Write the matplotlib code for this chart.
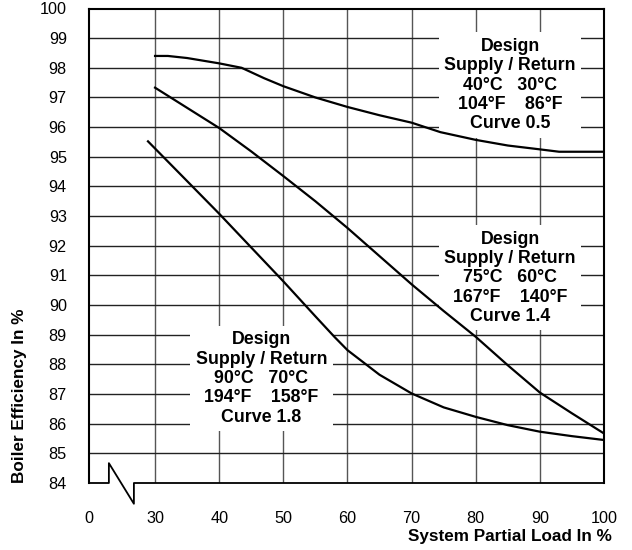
import matplotlib.pyplot as plt

plt.rcParams['font.family'] = ['Liberation Sans', 'DejaVu Sans']

# curve data
load_05 = [30, 32, 35, 40, 43.5, 47, 50, 55, 60, 65, 70, 74.5, 80, 85, 90, 93, 100]
eff_05 = [98.4, 98.4, 98.33, 98.15, 98.0, 97.65, 97.38, 97.0, 96.68, 96.4, 96.15,
          95.83, 95.57, 95.38, 95.25, 95.17, 95.17]

load_14 = [30, 35, 40, 45, 50, 55, 60, 65, 70, 75, 80, 85, 90, 95, 100]
eff_14 = [97.33, 96.65, 95.97, 95.18, 94.35, 93.5, 92.6, 91.65, 90.7, 89.8, 88.93,
          87.97, 87.05, 86.35, 85.67]

load_18 = [28.9, 35, 40, 45, 50, 55, 58, 60, 65, 70, 75, 80, 85, 90, 95, 100]
eff_18 = [95.52, 94.18, 93.08, 91.94, 90.8, 89.62, 88.92, 88.48, 87.65, 87.02, 86.55,
          86.23, 85.95, 85.73, 85.58, 85.45]

x_ticks = [30, 40, 50, 60, 70, 80, 90, 100]
y_ticks = list(range(84, 101))

labels = [
    ("Design\nSupply / Return\n40\u00b0C   30\u00b0C\n104\u00b0F    86\u00b0F\nCurve 0.5", 85.35, 97.42),
    ("Design\nSupply / Return\n75\u00b0C   60\u00b0C\n167\u00b0F    140\u00b0F\nCurve 1.4", 85.35, 90.92),
    ("Design\nSupply / Return\n90\u00b0C   70\u00b0C\n194\u00b0F    158\u00b0F\nCurve 1.8", 46.6, 87.52),
]

x_zero = 19.7  # where the broken axis starts ("0")

fig = plt.figure(figsize=(6.32, 5.5), dpi=100)
ax = fig.add_axes([89 / 632, 67 / 550, 515 / 632, 474.5 / 550])
ax.set_xlim(x_zero, 100)
ax.set_ylim(84, 100)

# grid
for x in x_ticks[:-1]:
    ax.axvline(x, color='#555555', lw=1.0, zorder=1)
for y in y_ticks[1:-1]:
    ax.axhline(y, color='#222222', lw=1.0, zorder=1)

# label boxes hide the grid, curves stay on top
for txt, x, y in labels:
    ax.text(x, y, txt, ha='center', va='center', multialignment='center',
            fontsize=12.8, fontweight='bold', linespacing=1.18, zorder=3,
            bbox=dict(facecolor='white', edgecolor='none', pad=4))

for xs, ys in [(load_05, eff_05), (load_14, eff_14), (load_18, eff_18)]:
    ax.plot(xs, ys, color='black', lw=1.6, zorder=4)

# spines, bottom one drawn with the axis break
for side in ['top', 'left', 'right']:
    ax.spines[side].set_linewidth(1.5)
ax.spines['bottom'].set_visible(False)
ax.plot([x_zero, 22.8, 22.8, 26.7, 26.7, 100], [84, 84, 84.67, 83.3, 84, 84],
        color='black', lw=1.3, clip_on=False, zorder=5)

ax.set_xticks([x_zero] + x_ticks)
ax.set_xticklabels(['0'] + [str(v) for v in x_ticks])
ax.set_yticks(y_ticks)
ax.tick_params(length=0, labelsize=11.7)
ax.tick_params(axis='x', pad=20)
ax.tick_params(axis='y', pad=16)

fig.text(20 / 632, 1 - 483 / 550, 'Boiler Efficiency In %', rotation=90,
         ha='center', va='bottom', fontsize=12.3, fontweight='bold')
fig.text(612 / 632, 1 - 537 / 550, 'System Partial Load In %',
         ha='right', va='center', fontsize=12.3, fontweight='bold')

fig.savefig('out.png', dpi=100)
